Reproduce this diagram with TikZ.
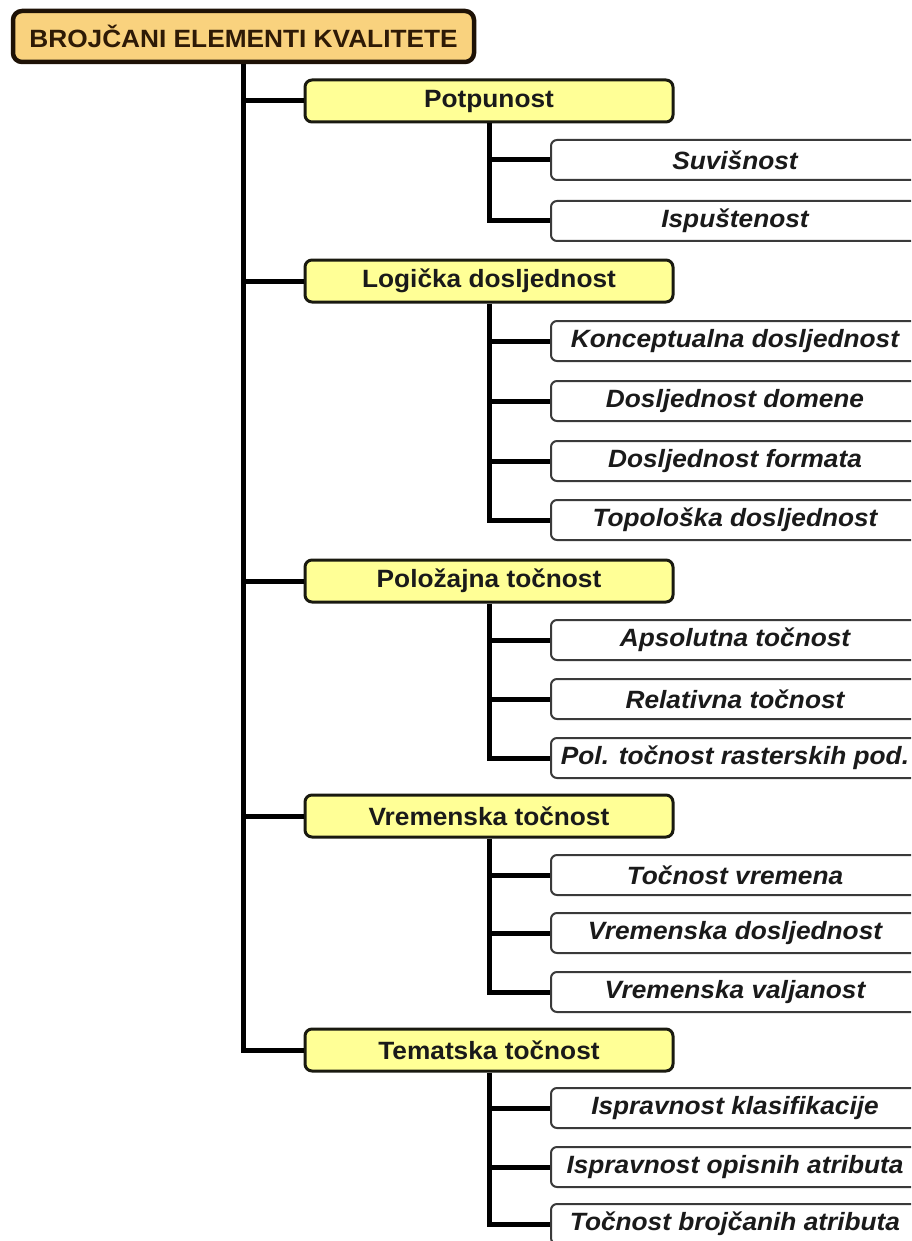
\documentclass[tikz,border=0pt]{standalone}
\usepackage{fontspec}
\newfontfamily\lf{Liberation Sans}[FakeStretch=1.05]
\definecolor{rootfill}{HTML}{F9D27E}
\definecolor{rootline}{HTML}{1E1206}
\definecolor{rootText}{HTML}{2E1A06}
\definecolor{lvlfill}{HTML}{FFFF96}
\definecolor{lvlline}{HTML}{1A1A10}
\definecolor{leafline}{HTML}{3A3A3A}
\definecolor{txt}{HTML}{1A1A1A}
\begin{document}
\begin{tikzpicture}[x=1pt,y=-1pt,
  conn/.style={line width=5pt, draw=black},
  rootbox/.style={draw=rootline, fill=rootfill, line width=4.5pt, rounded corners=9pt,
    minimum width=461pt, minimum height=51pt, inner sep=0pt,
    font=\lf\bfseries\fontsize{25}{29}\selectfont, text=rootText},
  lvlbox/.style={draw=lvlline, fill=lvlfill, line width=3pt, rounded corners=7pt,
    minimum width=368pt, minimum height=42pt, inner sep=0pt,
    font=\lf\bfseries\fontsize{25}{29}\selectfont, text=txt},
  leafbox/.style={draw=leafline, fill=white, line width=2pt, rounded corners=6pt,
    minimum width=368pt, minimum height=40pt, inner sep=0pt,
    font=\lf\bfseries\itshape\fontsize{25}{29}\selectfont, text=txt}]
\useasboundingbox (0,0) rectangle (911,1241);
\clip (0,0) rectangle (911,1241);
\fill[white] (0,0) rectangle (911,1241);

\node[rootbox] (root) at (243.5,36.5) {BROJČANI ELEMENTI KVALITETE};

\node[lvlbox] (pot) at (489,101) {Potpunost};
\node[leafbox] (suv) at (735,160) {Suvišnost};
\node[leafbox] (isp) at (735,221) {Ispuštenost};

\node[lvlbox] (log) at (489,281) {Logička dosljednost};
\node[leafbox] (kon) at (735,341) {Konceptualna dosljednost};
\node[leafbox] (dom) at (735,401) {Dosljednost domene};
\node[leafbox] (for) at (735,461) {Dosljednost formata};
\node[leafbox] (top) at (735,520) {Topološka dosljednost};

\node[lvlbox] (pol) at (489,581) {Položajna točnost};
\node[leafbox] (aps) at (735,640) {Apsolutna točnost};
\node[leafbox] (rel) at (735,699) {Relativna točnost};
\node[leafbox] (ras) at (735,758) {Pol. točnost rasterskih pod.};

\node[lvlbox] (vre) at (489,816) {Vremenska točnost};
\node[leafbox] (tv) at (735,875) {Točnost vremena};
\node[leafbox] (vd) at (735,933) {Vremenska dosljednost};
\node[leafbox] (vv) at (735,992) {Vremenska valjanost};

\node[lvlbox] (tem) at (489,1050) {Tematska točnost};
\node[leafbox] (ik) at (735,1108) {Ispravnost klasifikacije};
\node[leafbox] (io) at (735,1167) {Ispravnost opisnih atributa};
\node[leafbox] (tb) at (735,1224) {Točnost brojčanih atributa};

% trunk
\draw[conn] (root.south) |- (tem.west);
\foreach \n in {pot,log,pol,vre} \draw[conn] (root.south |- \n.west) -- (\n.west);

% level 2
\draw[conn] (pot.south) |- (isp.west);
\draw[conn] (pot.south |- suv.west) -- (suv.west);
\draw[conn] (log.south) |- (top.west);
\foreach \n in {kon,dom,for} \draw[conn] (log.south |- \n.west) -- (\n.west);
\draw[conn] (pol.south) |- (ras.west);
\foreach \n in {aps,rel} \draw[conn] (pol.south |- \n.west) -- (\n.west);
\draw[conn] (vre.south) |- (vv.west);
\foreach \n in {tv,vd} \draw[conn] (vre.south |- \n.west) -- (\n.west);
\draw[conn] (tem.south) |- (tb.west);
\foreach \n in {ik,io} \draw[conn] (tem.south |- \n.west) -- (\n.west);
\end{tikzpicture}
\end{document}
